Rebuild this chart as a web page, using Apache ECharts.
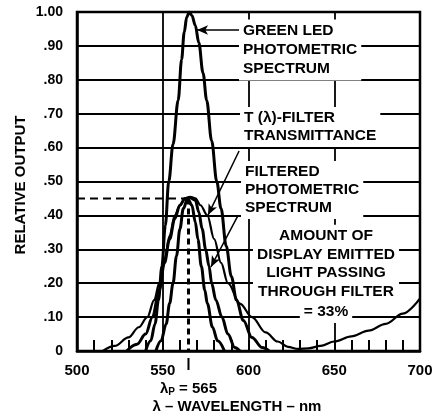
<!DOCTYPE html>
<html>
<head>
<meta charset="utf-8">
<script src="https://cdn.jsdelivr.net/npm/echarts/dist/echarts.min.js"></script>
<style>
    html, body { margin: 0; padding: 0; background: #fff; }
    #chart { width: 432px; height: 414px; }
</style>
</head>
<body>
<div id="chart"></div>
<script>
// axis scales
const xTicks = [500, 550, 600, 650, 700];
const yTickLabels = ['0', '.10', '.20', '.30', '.40', '.50', '.60', '.70', '.80', '.90', '1.00'];

// curves: [wavelength nm, relative output]
const ledSpectrum = [
    [540, 0], [543, 0.03], [545.5, 0.08], [547.5, 0.15], [549.5, 0.25], [551.5, 0.37],
    [553.5, 0.5], [556, 0.61], [559, 0.74], [561, 0.86], [562.5, 0.94], [564, 0.985],
    [565.5, 1.0], [567, 0.99], [569, 0.96], [571, 0.91], [573.5, 0.82], [575.6, 0.74],
    [578.5, 0.62], [581.5, 0.5], [584, 0.42], [587, 0.31], [590, 0.22], [593, 0.15],
    [597, 0.09], [602, 0.04], [608, 0.01], [612, 0]
];
const filterTransmittance = [
    [515, 0], [522, 0.015], [530, 0.04], [536, 0.07], [541, 0.1], [545, 0.15], [548, 0.2],
    [551, 0.27], [554, 0.34], [557, 0.4], [560, 0.43], [563, 0.45], [566, 0.455],
    [569, 0.45], [572, 0.43], [576, 0.4], [580, 0.33], [584, 0.26], [588, 0.2],
    [595, 0.14], [602, 0.1], [610, 0.055], [617, 0.028], [623, 0.012], [629, 0.006],
    [635, 0.008], [642, 0.015], [650, 0.028], [660, 0.043], [670, 0.06], [680, 0.08],
    [690, 0.11], [700, 0.155]
];
const filteredSpectrum = [
    [529, 0], [535, 0.02], [540, 0.05], [544, 0.1], [548, 0.18], [551, 0.26], [554, 0.33],
    [557, 0.39], [560, 0.43], [563, 0.45], [566, 0.452], [569, 0.445], [571, 0.41],
    [573, 0.36], [575, 0.3], [577, 0.25], [578.5, 0.2], [581, 0.15], [584.5, 0.1],
    [588, 0.05], [592, 0.01], [595, 0]
];
const innerSpectrum = [
    [546, 0], [549, 0.03], [552, 0.08], [554, 0.14], [556, 0.2], [558, 0.28], [560, 0.36],
    [562, 0.42], [564.5, 0.45], [567, 0.43], [569, 0.38], [570.5, 0.33], [572.5, 0.25],
    [574.5, 0.18], [576, 0.14], [579, 0.07], [582, 0.03], [586, 0]
];

// peak marker
const peakWavelength = 565;
const peakOutput = 0.45;

const FONT = '"Liberation Sans", Arial, Helvetica, sans-serif';
const chart = echarts.init(document.getElementById('chart'));

const curve = (name, data, width) => ({
    name: name,
    type: 'line',
    data: data,
    showSymbol: false,
    smooth: 0.35,
    smoothMonotone: 'x',
    silent: true,
    lineStyle: { color: '#000', width: width },
    z: 3
});

const dashed = (data, width, dash) => ({
    type: 'line',
    data: data,
    showSymbol: false,
    silent: true,
    lineStyle: { color: '#000', width: width, type: dash },
    z: 3
});

// leader lines with arrow heads, in data units
const leader = (from, to) => [
    { coord: from, symbol: 'none' },
    { coord: to, symbol: 'arrow', symbolSize: [7, 11] }
];

const textBlock = (lines, x, y, lh, align) => ({
    type: 'text',
    x: x,
    y: y,
    z: 100,
    silent: true,
    style: {
        text: lines.join('\n'),
        font: 'bold 15.5px ' + FONT,
        fill: '#000',
        lineHeight: lh,
        align: align,
        verticalAlign: 'top',
        backgroundColor: '#fff',
        padding: [2, 4]
    }
});

const option = {
    animation: false,
    backgroundColor: '#fff',
    grid: {
        left: 77, right: 12, top: 12, bottom: 63,
        show: true, borderColor: '#000', borderWidth: 2.5,
        outerBoundsMode: 'none'
    },
    xAxis: {
        type: 'value',
        min: xTicks[0],
        max: xTicks[xTicks.length - 1],
        interval: xTicks[1] - xTicks[0],
        axisLine: { show: true, lineStyle: { color: '#000', width: 2.5 } },
        axisTick: { show: true, inside: true, length: 11, lineStyle: { color: '#000', width: 2 } },
        minorTick: { show: true, splitNumber: 5, length: 11, lineStyle: { color: '#000', width: 2 } },
        axisLabel: { color: '#000', fontFamily: FONT, fontWeight: 'bold', fontSize: 15, margin: 12 },
        splitLine: { show: true, lineStyle: { color: '#000', width: 1.8 } }
    },
    yAxis: {
        type: 'value',
        min: 0,
        max: 1,
        interval: 0.1,
        axisLine: { show: true, lineStyle: { color: '#000', width: 2.5 } },
        axisTick: { show: false },
        axisLabel: {
            color: '#000', fontFamily: FONT, fontWeight: 'bold', fontSize: 14, margin: 14,
            padding: [6, 0, 0, 0],
            formatter: (v) => yTickLabels[Math.round(v * 10)]
        },
        splitLine: { show: true, lineStyle: { color: '#000', width: 1.8 } }
    },
    series: [
        curve('T (λ)-Filter Transmittance', filterTransmittance, 2.2),
        curve('Filtered Photometric Spectrum', filteredSpectrum, 3),
        curve('Inner', innerSpectrum, 3),
        curve('Green LED Photometric Spectrum', ledSpectrum, 3),
        dashed([[xTicks[0], peakOutput], [peakWavelength, peakOutput]], 2, [8, 5]),
        dashed([[peakWavelength, peakOutput], [peakWavelength, 0]], 3, [6, 4]),
        {
            type: 'line',
            data: [],
            silent: true,
            markLine: {
                silent: true,
                animation: false,
                label: { show: false },
                lineStyle: { color: '#000', width: 1.5, type: 'solid' },
                data: [
                    leader([597, 0.947], [570, 0.947]),
                    leader([594.5, 0.59], [576.4, 0.401]),
                    leader([594, 0.401], [578.1, 0.248])
                ]
            }
        }
    ],
    graphic: [
        {
            type: 'text', x: 21, y: 185, rotation: Math.PI / 2, silent: true,
            style: { text: 'RELATIVE OUTPUT', font: 'bold 15px ' + FONT, fill: '#000', align: 'center', verticalAlign: 'middle' }
        },
        {
            type: 'text', x: 237, y: 407, silent: true,
            style: { text: 'λ – WAVELENGTH – nm', font: 'bold 15px ' + FONT, fill: '#000', align: 'center', verticalAlign: 'middle' }
        },
        textBlock(['GREEN LED', 'PHOTOMETRIC', 'SPECTRUM'], 239, 19.5, 19, 'left'),
        textBlock(['T (λ)-FILTER', 'TRANSMITTANCE'], 240, 107, 18, 'left'),
        textBlock(['FILTERED', 'PHOTOMETRIC', 'SPECTRUM'], 241, 161, 18, 'left'),
        textBlock(['AMOUNT OF', 'DISPLAY EMITTED', 'LIGHT PASSING', 'THROUGH FILTER'], 326, 224.7, 18.6, 'center'),
        textBlock(['= 33%'], 326, 301, 18, 'center')
    ]
};

chart.setOption(option);

// peak wavelength label and tick under the axis
const p = chart.convertToPixel({ gridIndex: 0 }, [peakWavelength, 0]);
chart.setOption({
    graphic: option.graphic.concat([
        {
            type: 'line', silent: true,
            shape: { x1: p[0], y1: p[1] + 7, x2: p[0], y2: p[1] + 19 },
            style: { stroke: '#000', lineWidth: 2 }
        },
        {
            type: 'text', x: p[0], y: p[1] + 38, silent: true,
            style: {
                text: '{a|λ}{s|P}{a| = 565}',
                align: 'center', verticalAlign: 'middle',
                rich: {
                    a: { font: 'bold 15px ' + FONT, fill: '#000', color: '#000' },
                    s: { font: 'bold 10px ' + FONT, fill: '#000', color: '#000', padding: [6, 0, 0, 0] }
                }
            }
        }
    ])
});

window.addEventListener('resize', () => chart.resize());
</script>
</body>
</html>
